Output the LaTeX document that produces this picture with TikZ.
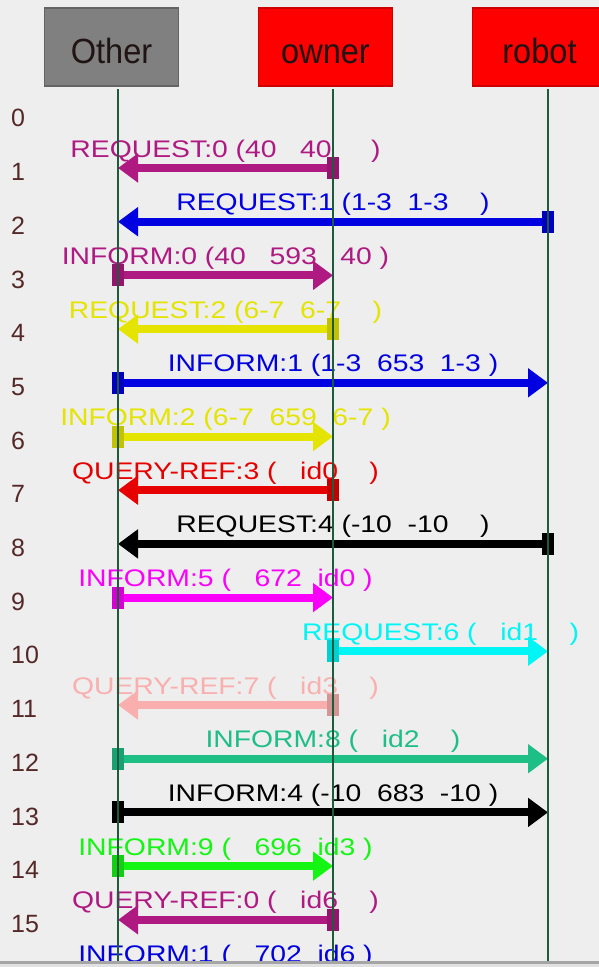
\documentclass[tikz,border=0pt]{standalone}
\usepackage{fontspec}
\setmainfont{Liberation Sans}
\usepackage{graphicx}
\usetikzlibrary{arrows.meta}
\definecolor{bg}{RGB}{238,238,238}
\definecolor{cpurple}{RGB}{175,25,130}
\definecolor{cblue}{RGB}{0,0,225}
\definecolor{cyellow}{RGB}{228,228,0}
\definecolor{cred}{RGB}{230,0,0}
\definecolor{cblack}{RGB}{0,0,0}
\definecolor{cmagenta}{RGB}{250,0,250}
\definecolor{ccyan}{RGB}{0,245,245}
\definecolor{cpink}{RGB}{250,175,175}
\definecolor{cteal}{RGB}{30,190,135}
\definecolor{cgreen}{RGB}{20,245,20}
\definecolor{lifec}{RGB}{30,90,60}
\definecolor{rowc}{RGB}{85,40,40}
\definecolor{hdtext}{RGB}{32,20,20}
\definecolor{grayfill}{RGB}{128,128,128}
\definecolor{grayedge}{RGB}{100,100,100}
\definecolor{redfill}{RGB}{255,0,0}
\definecolor{rededge}{RGB}{205,0,0}
\definecolor{barc}{RGB}{165,165,165}
\definecolor{barlight}{RGB}{225,225,225}
\newcommand\wtxt[1]{\scalebox{1.18}[1]{#1}}
\newcommand\hdtxt[1]{\scalebox{0.93}[1]{#1}}
\newcommand\msgarrow[5]{%
  \draw[msgline, draw=#4] (#2 |- row#1) -- (#3 |- row#1)
    node[midway, lbl, text=#4] (m#1) {\wtxt{#5}};
  \node[sqbox, fill=#4!85!black] (s#1) at (#2 |- row#1) {};
}
\begin{document}
\begin{tikzpicture}[x=1pt,y=-1pt,
  hbox/.style={minimum width=134pt, minimum height=78pt, inner sep=0pt,
    text height=32pt, text depth=0pt,
    font=\fontsize{35}{35}\selectfont, text=hdtext, line width=1.5pt},
  life/.style={draw=lifec, line width=1.6pt},
  msgline/.style={line width=8pt, -{Triangle[length=20pt,width=28pt]}},
  lbl/.style={anchor=base, yshift=11pt, inner sep=0pt, font=\fontsize{24}{24}\selectfont},
  sqbox/.style={minimum width=12pt, minimum height=22pt, inner sep=0pt, draw=none},
  rowlbl/.style={text=rowc, inner sep=0pt, anchor=west, font=\fontsize{25}{25}\selectfont}]
\useasboundingbox (0,0) rectangle (599,967);
\fill[bg] (0,0) rectangle (599,967);
% header boxes
\node[hbox, fill=grayfill, draw=grayedge] (other) at (111.5,47) {\hdtxt{Other}};
\node[hbox, fill=redfill, draw=rededge] (owner) at (325.5,47) {\hdtxt{owner}};
\node[hbox, fill=redfill, draw=rededge] (robot) at (539.5,47) {\hdtxt{robot}};
% lifeline anchors
\coordinate (lO) at (118,89);
\coordinate (lW) at (333,89);
\coordinate (lR) at (548,89);
\coordinate (bot) at (0,961);
% rows
\foreach \k in {0,...,16} {\coordinate (row\k) at (0,{168+53.7*(\k-1)});}
\foreach \k in {0,...,15} {\node[rowlbl] (n\k) at (11,{172+53.7*(\k-1)}) {\k};}
% messages
\msgarrow{1}{lW}{lO}{cpurple}{REQUEST:0 (40~~~40~~~~~)}
\msgarrow{2}{lR}{lO}{cblue}{REQUEST:1 (1-3~~1-3~~~~)}
\msgarrow{3}{lO}{lW}{cpurple}{INFORM:0 (40~~~593~~~40~)}
\msgarrow{4}{lW}{lO}{cyellow}{REQUEST:2 (6-7~~6-7~~~~)}
\msgarrow{5}{lO}{lR}{cblue}{INFORM:1 (1-3~~653~~1-3~)}
\msgarrow{6}{lO}{lW}{cyellow}{INFORM:2 (6-7~~659~~6-7~)}
\msgarrow{7}{lW}{lO}{cred}{QUERY-REF:3 (~~~id0~~~~)}
\msgarrow{8}{lR}{lO}{cblack}{REQUEST:4 (-10~~-10~~~~)}
\msgarrow{9}{lO}{lW}{cmagenta}{INFORM:5 (~~~672~~id0~)}
\msgarrow{10}{lW}{lR}{ccyan}{REQUEST:6 (~~~id1~~~~)}
\msgarrow{11}{lW}{lO}{cpink}{QUERY-REF:7 (~~~id3~~~~)}
\msgarrow{12}{lO}{lR}{cteal}{INFORM:8 (~~~id2~~~~)}
\msgarrow{13}{lO}{lR}{cblack}{INFORM:4 (-10~~683~~-10~)}
\msgarrow{14}{lO}{lW}{cgreen}{INFORM:9 (~~~696~~id3~)}
\msgarrow{15}{lW}{lO}{cpurple}{QUERY-REF:0 (~~~id6~~~~)}
\path (lO |- row16) -- (lW |- row16) node[midway, lbl, text=cblue] (m16) {\wtxt{INFORM:1 (~~~702~~id6~)}};
% lifelines on top
\draw[life] (lO) -- (lO |- bot);
\draw[life] (lW) -- (lW |- bot);
\draw[life] (lR) -- (lR |- bot);
% bottom border
\fill[barc] (0,961) rectangle (599,963.5);
\fill[barlight] (0,963.5) rectangle (599,967);
\end{tikzpicture}
\end{document}
